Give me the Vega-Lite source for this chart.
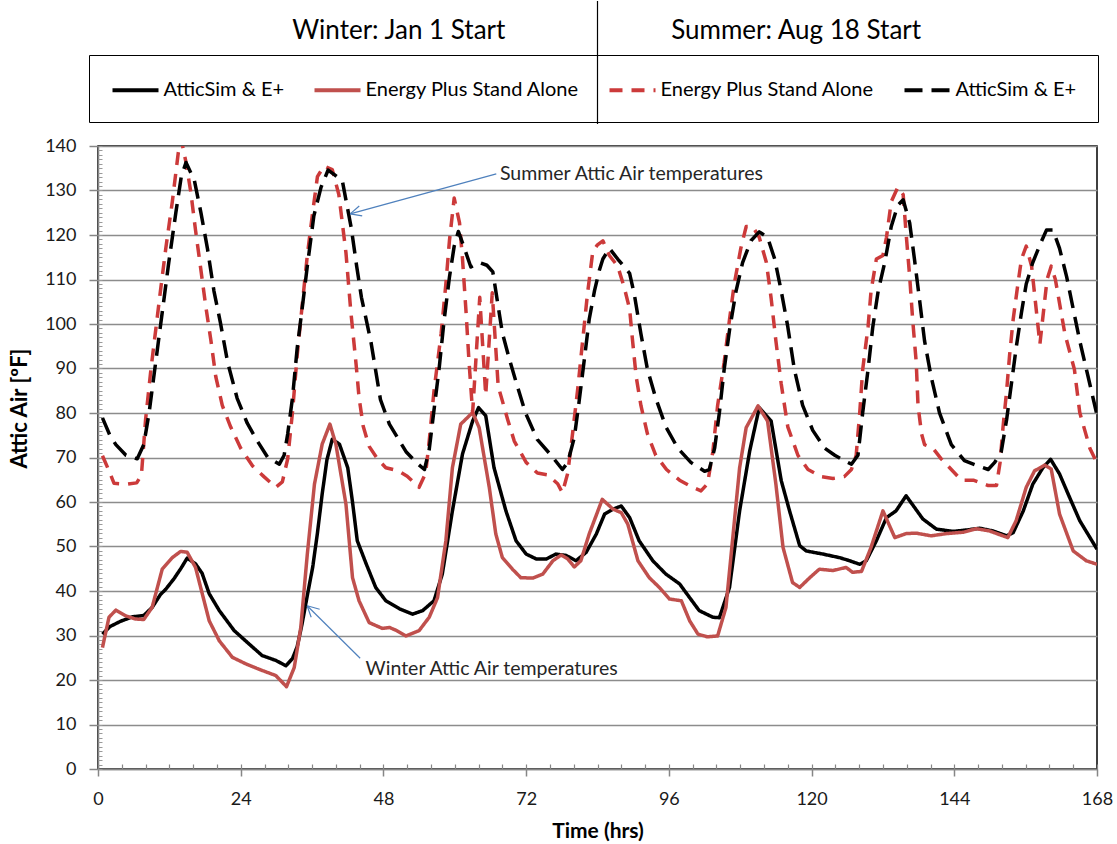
{
  "$schema": "https://vega.github.io/schema/vega-lite/v6.json",
  "background": "white",
  "padding": {"left": 7, "top": 0, "right": 2, "bottom": 0},
  "config": {"font": "Lato", "view": {"stroke": null}},
  "spacing": 22,
  "bounds": "flush",
  "resolve": {"scale": {"x": "independent", "y": "independent", "color": "independent", "strokeDash": "independent"}},
  "datasets": {
    "headers": [
      {"season": "Winter", "label": "Winter: Jan 1 Start"},
      {"season": "Summer", "label": "Summer: Aug 18 Start"}
    ],
    "notes": [
      {"label": "Summer Attic Air temperatures", "hour": 67.6, "temp": 133.7},
      {"label": "Winter Attic Air temperatures", "hour": 45.0, "temp": 22.5}
    ],
    "arrows": [
      {"h1": 66.98, "t1": 133.72, "h2": 42.41, "t2": 124.74},
      {"h1": 42.41, "t1": 124.74, "h2": 44.43, "t2": 124.29},
      {"h1": 42.41, "t1": 124.74, "h2": 43.93, "t2": 126.5},
      {"h1": 44.09, "t1": 24.89, "h2": 35.17, "t2": 36.68},
      {"h1": 35.17, "t1": 36.68, "h2": 35.85, "t2": 34.1},
      {"h1": 35.17, "t1": 36.68, "h2": 37.28, "t2": 35.9}
    ],
    "temps": [
      {"series": "Winter AtticSim & E+", "hour": 0.75, "temp": 30.3},
      {"series": "Winter AtticSim & E+", "hour": 2, "temp": 32.0},
      {"series": "Winter AtticSim & E+", "hour": 3.8, "temp": 33.2},
      {"series": "Winter AtticSim & E+", "hour": 5.8, "temp": 34.2},
      {"series": "Winter AtticSim & E+", "hour": 7.7, "temp": 34.5},
      {"series": "Winter AtticSim & E+", "hour": 9.1, "temp": 36.3},
      {"series": "Winter AtticSim & E+", "hour": 10.5, "temp": 39.2},
      {"series": "Winter AtticSim & E+", "hour": 11.4, "temp": 40.4},
      {"series": "Winter AtticSim & E+", "hour": 12.8, "temp": 42.8},
      {"series": "Winter AtticSim & E+", "hour": 14.0, "temp": 45.2},
      {"series": "Winter AtticSim & E+", "hour": 15.0, "temp": 47.4},
      {"series": "Winter AtticSim & E+", "hour": 16.4, "temp": 46.1},
      {"series": "Winter AtticSim & E+", "hour": 17.5, "temp": 44.0},
      {"series": "Winter AtticSim & E+", "hour": 18.7, "temp": 39.4},
      {"series": "Winter AtticSim & E+", "hour": 20.4, "temp": 35.6},
      {"series": "Winter AtticSim & E+", "hour": 22.9, "temp": 31.1},
      {"series": "Winter AtticSim & E+", "hour": 25.4, "temp": 28.1},
      {"series": "Winter AtticSim & E+", "hour": 27.6, "temp": 25.5},
      {"series": "Winter AtticSim & E+", "hour": 29.9, "temp": 24.4},
      {"series": "Winter AtticSim & E+", "hour": 31.6, "temp": 23.2},
      {"series": "Winter AtticSim & E+", "hour": 32.7, "temp": 24.8},
      {"series": "Winter AtticSim & E+", "hour": 33.5, "temp": 27.5},
      {"series": "Winter AtticSim & E+", "hour": 34.3, "temp": 32.5},
      {"series": "Winter AtticSim & E+", "hour": 35.2, "temp": 39.0},
      {"series": "Winter AtticSim & E+", "hour": 36.1, "temp": 45.3},
      {"series": "Winter AtticSim & E+", "hour": 36.9, "temp": 53.0},
      {"series": "Winter AtticSim & E+", "hour": 37.7, "temp": 61.8},
      {"series": "Winter AtticSim & E+", "hour": 38.5, "temp": 69.5},
      {"series": "Winter AtticSim & E+", "hour": 39.4, "temp": 74.1},
      {"series": "Winter AtticSim & E+", "hour": 40.6, "temp": 73.0},
      {"series": "Winter AtticSim & E+", "hour": 42.0, "temp": 67.7},
      {"series": "Winter AtticSim & E+", "hour": 42.8, "temp": 60.0},
      {"series": "Winter AtticSim & E+", "hour": 43.6, "temp": 51.3},
      {"series": "Winter AtticSim & E+", "hour": 45.1, "temp": 46.1},
      {"series": "Winter AtticSim & E+", "hour": 46.7, "temp": 40.8},
      {"series": "Winter AtticSim & E+", "hour": 48.4, "temp": 37.8},
      {"series": "Winter AtticSim & E+", "hour": 50.7, "temp": 36.0},
      {"series": "Winter AtticSim & E+", "hour": 52.9, "temp": 34.8},
      {"series": "Winter AtticSim & E+", "hour": 54.6, "temp": 35.6},
      {"series": "Winter AtticSim & E+", "hour": 56.5, "temp": 37.8},
      {"series": "Winter AtticSim & E+", "hour": 57.9, "temp": 43.8},
      {"series": "Winter AtticSim & E+", "hour": 59.6, "temp": 58.0},
      {"series": "Winter AtticSim & E+", "hour": 61.3, "temp": 70.8},
      {"series": "Winter AtticSim & E+", "hour": 63.0, "temp": 78.2},
      {"series": "Winter AtticSim & E+", "hour": 64.0, "temp": 81.2},
      {"series": "Winter AtticSim & E+", "hour": 65.2, "temp": 79.4},
      {"series": "Winter AtticSim & E+", "hour": 66.6, "temp": 67.7},
      {"series": "Winter AtticSim & E+", "hour": 68.6, "temp": 58.0},
      {"series": "Winter AtticSim & E+", "hour": 70.3, "temp": 51.3},
      {"series": "Winter AtticSim & E+", "hour": 72.0, "temp": 48.3},
      {"series": "Winter AtticSim & E+", "hour": 73.7, "temp": 47.2},
      {"series": "Winter AtticSim & E+", "hour": 75.4, "temp": 47.2},
      {"series": "Winter AtticSim & E+", "hour": 77.0, "temp": 48.3},
      {"series": "Winter AtticSim & E+", "hour": 78.7, "temp": 48.0},
      {"series": "Winter AtticSim & E+", "hour": 80.4, "temp": 46.8},
      {"series": "Winter AtticSim & E+", "hour": 82.1, "temp": 48.7},
      {"series": "Winter AtticSim & E+", "hour": 83.8, "temp": 52.8},
      {"series": "Winter AtticSim & E+", "hour": 85.2, "temp": 57.3},
      {"series": "Winter AtticSim & E+", "hour": 86.6, "temp": 58.4},
      {"series": "Winter AtticSim & E+", "hour": 88.0, "temp": 59.1},
      {"series": "Winter AtticSim & E+", "hour": 89.4, "temp": 56.5},
      {"series": "Winter AtticSim & E+", "hour": 91.0, "temp": 51.3},
      {"series": "Winter AtticSim & E+", "hour": 93.3, "temp": 46.8},
      {"series": "Winter AtticSim & E+", "hour": 95.5, "temp": 43.8},
      {"series": "Winter AtticSim & E+", "hour": 97.8, "temp": 41.6},
      {"series": "Winter AtticSim & E+", "hour": 99.5, "temp": 38.5},
      {"series": "Winter AtticSim & E+", "hour": 101.1, "temp": 35.6},
      {"series": "Winter AtticSim & E+", "hour": 103.4, "temp": 34.1},
      {"series": "Winter AtticSim & E+", "hour": 104.5, "temp": 34.0},
      {"series": "Winter AtticSim & E+", "hour": 106.2, "temp": 40.8},
      {"series": "Winter AtticSim & E+", "hour": 107.9, "temp": 58.0},
      {"series": "Winter AtticSim & E+", "hour": 109.6, "temp": 71.5},
      {"series": "Winter AtticSim & E+", "hour": 111.2, "temp": 81.2},
      {"series": "Winter AtticSim & E+", "hour": 113.2, "temp": 78.2},
      {"series": "Winter AtticSim & E+", "hour": 114.9, "temp": 64.8},
      {"series": "Winter AtticSim & E+", "hour": 116.3, "temp": 58.0},
      {"series": "Winter AtticSim & E+", "hour": 118.0, "temp": 50.2},
      {"series": "Winter AtticSim & E+", "hour": 119.1, "temp": 49.0},
      {"series": "Winter AtticSim & E+", "hour": 121.9, "temp": 48.3},
      {"series": "Winter AtticSim & E+", "hour": 124.7, "temp": 47.5},
      {"series": "Winter AtticSim & E+", "hour": 126.4, "temp": 46.8},
      {"series": "Winter AtticSim & E+", "hour": 128.1, "temp": 46.0},
      {"series": "Winter AtticSim & E+", "hour": 129.2, "temp": 46.8},
      {"series": "Winter AtticSim & E+", "hour": 130.9, "temp": 51.3},
      {"series": "Winter AtticSim & E+", "hour": 132.6, "temp": 56.5},
      {"series": "Winter AtticSim & E+", "hour": 134.2, "temp": 58.0},
      {"series": "Winter AtticSim & E+", "hour": 135.9, "temp": 61.4},
      {"series": "Winter AtticSim & E+", "hour": 137.3, "temp": 58.8},
      {"series": "Winter AtticSim & E+", "hour": 138.7, "temp": 56.2},
      {"series": "Winter AtticSim & E+", "hour": 141.0, "temp": 53.9},
      {"series": "Winter AtticSim & E+", "hour": 143.8, "temp": 53.4},
      {"series": "Winter AtticSim & E+", "hour": 146.0, "temp": 53.7},
      {"series": "Winter AtticSim & E+", "hour": 148.3, "temp": 54.1},
      {"series": "Winter AtticSim & E+", "hour": 150.5, "temp": 53.5},
      {"series": "Winter AtticSim & E+", "hour": 152.8, "temp": 52.4},
      {"series": "Winter AtticSim & E+", "hour": 153.9, "temp": 53.1},
      {"series": "Winter AtticSim & E+", "hour": 155.6, "temp": 58.0},
      {"series": "Winter AtticSim & E+", "hour": 157.2, "temp": 64.0},
      {"series": "Winter AtticSim & E+", "hour": 158.9, "temp": 67.7},
      {"series": "Winter AtticSim & E+", "hour": 160.2, "temp": 69.6},
      {"series": "Winter AtticSim & E+", "hour": 161.7, "temp": 66.3},
      {"series": "Winter AtticSim & E+", "hour": 163.4, "temp": 61.0},
      {"series": "Winter AtticSim & E+", "hour": 165.1, "temp": 55.8},
      {"series": "Winter AtticSim & E+", "hour": 168.0, "temp": 49.4},

      {"series": "Winter Energy Plus Stand Alone", "hour": 0.75, "temp": 27.3},
      {"series": "Winter Energy Plus Stand Alone", "hour": 1.85, "temp": 34.1},
      {"series": "Winter Energy Plus Stand Alone", "hour": 3.0, "temp": 35.7},
      {"series": "Winter Energy Plus Stand Alone", "hour": 4.7, "temp": 34.4},
      {"series": "Winter Energy Plus Stand Alone", "hour": 6.3, "temp": 33.7},
      {"series": "Winter Energy Plus Stand Alone", "hour": 7.7, "temp": 33.6},
      {"series": "Winter Energy Plus Stand Alone", "hour": 9.1, "temp": 36.3},
      {"series": "Winter Energy Plus Stand Alone", "hour": 10.8, "temp": 44.9},
      {"series": "Winter Energy Plus Stand Alone", "hour": 12.5, "temp": 47.5},
      {"series": "Winter Energy Plus Stand Alone", "hour": 13.9, "temp": 48.9},
      {"series": "Winter Energy Plus Stand Alone", "hour": 15.0, "temp": 48.7},
      {"series": "Winter Energy Plus Stand Alone", "hour": 16.4, "temp": 45.3},
      {"series": "Winter Energy Plus Stand Alone", "hour": 18.7, "temp": 33.3},
      {"series": "Winter Energy Plus Stand Alone", "hour": 20.4, "temp": 28.8},
      {"series": "Winter Energy Plus Stand Alone", "hour": 22.6, "temp": 25.1},
      {"series": "Winter Energy Plus Stand Alone", "hour": 24.9, "temp": 23.6},
      {"series": "Winter Energy Plus Stand Alone", "hour": 27.7, "temp": 22.1},
      {"series": "Winter Energy Plus Stand Alone", "hour": 29.9, "temp": 21.0},
      {"series": "Winter Energy Plus Stand Alone", "hour": 31.7, "temp": 18.5},
      {"series": "Winter Energy Plus Stand Alone", "hour": 33.0, "temp": 22.8},
      {"series": "Winter Energy Plus Stand Alone", "hour": 34.1, "temp": 31.8},
      {"series": "Winter Energy Plus Stand Alone", "hour": 35.2, "temp": 48.3},
      {"series": "Winter Energy Plus Stand Alone", "hour": 36.4, "temp": 64.0},
      {"series": "Winter Energy Plus Stand Alone", "hour": 37.7, "temp": 73.0},
      {"series": "Winter Energy Plus Stand Alone", "hour": 39.0, "temp": 77.5},
      {"series": "Winter Energy Plus Stand Alone", "hour": 40.0, "temp": 73.0},
      {"series": "Winter Energy Plus Stand Alone", "hour": 41.7, "temp": 59.5},
      {"series": "Winter Energy Plus Stand Alone", "hour": 42.8, "temp": 43.0},
      {"series": "Winter Energy Plus Stand Alone", "hour": 43.9, "temp": 37.8},
      {"series": "Winter Energy Plus Stand Alone", "hour": 45.6, "temp": 32.9},
      {"series": "Winter Energy Plus Stand Alone", "hour": 47.8, "temp": 31.6},
      {"series": "Winter Energy Plus Stand Alone", "hour": 49.0, "temp": 31.8},
      {"series": "Winter Energy Plus Stand Alone", "hour": 50.1, "temp": 31.2},
      {"series": "Winter Energy Plus Stand Alone", "hour": 51.8, "temp": 29.9},
      {"series": "Winter Energy Plus Stand Alone", "hour": 54.0, "temp": 31.1},
      {"series": "Winter Energy Plus Stand Alone", "hour": 55.7, "temp": 34.1},
      {"series": "Winter Energy Plus Stand Alone", "hour": 57.1, "temp": 38.5},
      {"series": "Winter Energy Plus Stand Alone", "hour": 58.5, "temp": 51.3},
      {"series": "Winter Energy Plus Stand Alone", "hour": 59.6, "temp": 67.7},
      {"series": "Winter Energy Plus Stand Alone", "hour": 61.0, "temp": 77.5},
      {"series": "Winter Energy Plus Stand Alone", "hour": 63.0, "temp": 80.1},
      {"series": "Winter Energy Plus Stand Alone", "hour": 64.1, "temp": 76.7},
      {"series": "Winter Energy Plus Stand Alone", "hour": 65.8, "temp": 63.3},
      {"series": "Winter Energy Plus Stand Alone", "hour": 66.9, "temp": 52.8},
      {"series": "Winter Energy Plus Stand Alone", "hour": 68.0, "temp": 47.5},
      {"series": "Winter Energy Plus Stand Alone", "hour": 69.7, "temp": 44.9},
      {"series": "Winter Energy Plus Stand Alone", "hour": 71.1, "temp": 43.0},
      {"series": "Winter Energy Plus Stand Alone", "hour": 73.1, "temp": 42.9},
      {"series": "Winter Energy Plus Stand Alone", "hour": 74.8, "temp": 43.8},
      {"series": "Winter Energy Plus Stand Alone", "hour": 76.5, "temp": 46.8},
      {"series": "Winter Energy Plus Stand Alone", "hour": 77.9, "temp": 48.1},
      {"series": "Winter Energy Plus Stand Alone", "hour": 79.0, "temp": 47.2},
      {"series": "Winter Energy Plus Stand Alone", "hour": 80.1, "temp": 45.4},
      {"series": "Winter Energy Plus Stand Alone", "hour": 81.2, "temp": 46.8},
      {"series": "Winter Energy Plus Stand Alone", "hour": 82.6, "temp": 52.8},
      {"series": "Winter Energy Plus Stand Alone", "hour": 84.8, "temp": 60.6},
      {"series": "Winter Energy Plus Stand Alone", "hour": 86.6, "temp": 58.4},
      {"series": "Winter Energy Plus Stand Alone", "hour": 88.0, "temp": 57.6},
      {"series": "Winter Energy Plus Stand Alone", "hour": 89.1, "temp": 55.0},
      {"series": "Winter Energy Plus Stand Alone", "hour": 90.8, "temp": 46.8},
      {"series": "Winter Energy Plus Stand Alone", "hour": 92.7, "temp": 43.0},
      {"series": "Winter Energy Plus Stand Alone", "hour": 94.4, "temp": 40.8},
      {"series": "Winter Energy Plus Stand Alone", "hour": 96.1, "temp": 38.2},
      {"series": "Winter Energy Plus Stand Alone", "hour": 98.1, "temp": 37.8},
      {"series": "Winter Energy Plus Stand Alone", "hour": 99.5, "temp": 33.3},
      {"series": "Winter Energy Plus Stand Alone", "hour": 100.9, "temp": 30.3},
      {"series": "Winter Energy Plus Stand Alone", "hour": 102.5, "temp": 29.7},
      {"series": "Winter Energy Plus Stand Alone", "hour": 104.2, "temp": 29.9},
      {"series": "Winter Energy Plus Stand Alone", "hour": 105.6, "temp": 36.3},
      {"series": "Winter Energy Plus Stand Alone", "hour": 106.7, "temp": 51.3},
      {"series": "Winter Energy Plus Stand Alone", "hour": 107.9, "temp": 67.7},
      {"series": "Winter Energy Plus Stand Alone", "hour": 109.0, "temp": 76.7},
      {"series": "Winter Energy Plus Stand Alone", "hour": 111.0, "temp": 81.6},
      {"series": "Winter Energy Plus Stand Alone", "hour": 112.6, "temp": 78.2},
      {"series": "Winter Energy Plus Stand Alone", "hour": 114.0, "temp": 64.0},
      {"series": "Winter Energy Plus Stand Alone", "hour": 115.2, "temp": 49.8},
      {"series": "Winter Energy Plus Stand Alone", "hour": 116.8, "temp": 41.9},
      {"series": "Winter Energy Plus Stand Alone", "hour": 118.0, "temp": 40.8},
      {"series": "Winter Energy Plus Stand Alone", "hour": 119.7, "temp": 43.0},
      {"series": "Winter Energy Plus Stand Alone", "hour": 121.3, "temp": 44.9},
      {"series": "Winter Energy Plus Stand Alone", "hour": 123.6, "temp": 44.6},
      {"series": "Winter Energy Plus Stand Alone", "hour": 125.8, "temp": 45.3},
      {"series": "Winter Energy Plus Stand Alone", "hour": 126.9, "temp": 44.2},
      {"series": "Winter Energy Plus Stand Alone", "hour": 128.4, "temp": 44.4},
      {"series": "Winter Energy Plus Stand Alone", "hour": 130.0, "temp": 49.8},
      {"series": "Winter Energy Plus Stand Alone", "hour": 132.0, "temp": 58.0},
      {"series": "Winter Energy Plus Stand Alone", "hour": 134.0, "temp": 52.0},
      {"series": "Winter Energy Plus Stand Alone", "hour": 135.9, "temp": 52.9},
      {"series": "Winter Energy Plus Stand Alone", "hour": 137.6, "temp": 53.0},
      {"series": "Winter Energy Plus Stand Alone", "hour": 140.1, "temp": 52.4},
      {"series": "Winter Energy Plus Stand Alone", "hour": 142.7, "temp": 52.9},
      {"series": "Winter Energy Plus Stand Alone", "hour": 145.5, "temp": 53.2},
      {"series": "Winter Energy Plus Stand Alone", "hour": 147.7, "temp": 54.0},
      {"series": "Winter Energy Plus Stand Alone", "hour": 149.9, "temp": 53.5},
      {"series": "Winter Energy Plus Stand Alone", "hour": 153.0, "temp": 52.0},
      {"series": "Winter Energy Plus Stand Alone", "hour": 154.4, "temp": 55.8},
      {"series": "Winter Energy Plus Stand Alone", "hour": 156.1, "temp": 63.3},
      {"series": "Winter Energy Plus Stand Alone", "hour": 157.5, "temp": 67.0},
      {"series": "Winter Energy Plus Stand Alone", "hour": 159.2, "temp": 68.3},
      {"series": "Winter Energy Plus Stand Alone", "hour": 160.3, "temp": 67.4},
      {"series": "Winter Energy Plus Stand Alone", "hour": 161.7, "temp": 57.3},
      {"series": "Winter Energy Plus Stand Alone", "hour": 164.0, "temp": 49.0},
      {"series": "Winter Energy Plus Stand Alone", "hour": 166.2, "temp": 46.8},
      {"series": "Winter Energy Plus Stand Alone", "hour": 168.0, "temp": 46.0},

      {"series": "Summer Energy Plus Stand Alone", "hour": 0.75, "temp": 70.4},
      {"series": "Summer Energy Plus Stand Alone", "hour": 1.85, "temp": 67.0},
      {"series": "Summer Energy Plus Stand Alone", "hour": 2.7, "temp": 64.2},
      {"series": "Summer Energy Plus Stand Alone", "hour": 4.9, "temp": 64.0},
      {"series": "Summer Energy Plus Stand Alone", "hour": 6.5, "temp": 64.3},
      {"series": "Summer Energy Plus Stand Alone", "hour": 7.3, "temp": 66.0},
      {"series": "Summer Energy Plus Stand Alone", "hour": 8.0, "temp": 78.5},
      {"series": "Summer Energy Plus Stand Alone", "hour": 8.9, "temp": 89.8},
      {"series": "Summer Energy Plus Stand Alone", "hour": 9.7, "temp": 98.6},
      {"series": "Summer Energy Plus Stand Alone", "hour": 10.5, "temp": 107.4},
      {"series": "Summer Energy Plus Stand Alone", "hour": 11.4, "temp": 117.0},
      {"series": "Summer Energy Plus Stand Alone", "hour": 12.5, "temp": 127.5},
      {"series": "Summer Energy Plus Stand Alone", "hour": 13.5, "temp": 138.5},
      {"series": "Summer Energy Plus Stand Alone", "hour": 14.0, "temp": 141.5},
      {"series": "Summer Energy Plus Stand Alone", "hour": 14.8, "temp": 136.3},
      {"series": "Summer Energy Plus Stand Alone", "hour": 15.6, "temp": 129.7},
      {"series": "Summer Energy Plus Stand Alone", "hour": 16.4, "temp": 121.1},
      {"series": "Summer Energy Plus Stand Alone", "hour": 17.3, "temp": 112.2},
      {"series": "Summer Energy Plus Stand Alone", "hour": 18.1, "temp": 104.2},
      {"series": "Summer Energy Plus Stand Alone", "hour": 19.0, "temp": 96.2},
      {"series": "Summer Energy Plus Stand Alone", "hour": 19.8, "temp": 88.2},
      {"series": "Summer Energy Plus Stand Alone", "hour": 20.9, "temp": 81.7},
      {"series": "Summer Energy Plus Stand Alone", "hour": 22.3, "temp": 76.9},
      {"series": "Summer Energy Plus Stand Alone", "hour": 24.0, "temp": 72.1},
      {"series": "Summer Energy Plus Stand Alone", "hour": 26.0, "temp": 68.1},
      {"series": "Summer Energy Plus Stand Alone", "hour": 27.9, "temp": 65.7},
      {"series": "Summer Energy Plus Stand Alone", "hour": 29.9, "temp": 63.3},
      {"series": "Summer Energy Plus Stand Alone", "hour": 31.0, "temp": 64.5},
      {"series": "Summer Energy Plus Stand Alone", "hour": 31.9, "temp": 69.7},
      {"series": "Summer Energy Plus Stand Alone", "hour": 32.7, "temp": 80.1},
      {"series": "Summer Energy Plus Stand Alone", "hour": 33.5, "temp": 93.0},
      {"series": "Summer Energy Plus Stand Alone", "hour": 34.4, "temp": 105.0},
      {"series": "Summer Energy Plus Stand Alone", "hour": 35.2, "temp": 115.4},
      {"series": "Summer Energy Plus Stand Alone", "hour": 36.1, "temp": 125.1},
      {"series": "Summer Energy Plus Stand Alone", "hour": 36.9, "temp": 133.1},
      {"series": "Summer Energy Plus Stand Alone", "hour": 38.0, "temp": 135.5},
      {"series": "Summer Energy Plus Stand Alone", "hour": 39.4, "temp": 134.7},
      {"series": "Summer Energy Plus Stand Alone", "hour": 40.5, "temp": 129.1},
      {"series": "Summer Energy Plus Stand Alone", "hour": 41.7, "temp": 116.0},
      {"series": "Summer Energy Plus Stand Alone", "hour": 42.5, "temp": 103.0},
      {"series": "Summer Energy Plus Stand Alone", "hour": 43.4, "temp": 91.0},
      {"series": "Summer Energy Plus Stand Alone", "hour": 43.9, "temp": 83.5},
      {"series": "Summer Energy Plus Stand Alone", "hour": 44.6, "temp": 77.0},
      {"series": "Summer Energy Plus Stand Alone", "hour": 45.6, "temp": 72.5},
      {"series": "Summer Energy Plus Stand Alone", "hour": 47.0, "temp": 69.7},
      {"series": "Summer Energy Plus Stand Alone", "hour": 48.4, "temp": 67.7},
      {"series": "Summer Energy Plus Stand Alone", "hour": 50.5, "temp": 67.0},
      {"series": "Summer Energy Plus Stand Alone", "hour": 52.0, "temp": 65.8},
      {"series": "Summer Energy Plus Stand Alone", "hour": 54.0, "temp": 63.3},
      {"series": "Summer Energy Plus Stand Alone", "hour": 55.1, "temp": 66.5},
      {"series": "Summer Energy Plus Stand Alone", "hour": 55.7, "temp": 73.7},
      {"series": "Summer Energy Plus Stand Alone", "hour": 56.5, "temp": 84.9},
      {"series": "Summer Energy Plus Stand Alone", "hour": 57.7, "temp": 97.8},
      {"series": "Summer Energy Plus Stand Alone", "hour": 58.5, "temp": 109.0},
      {"series": "Summer Energy Plus Stand Alone", "hour": 59.1, "temp": 118.7},
      {"series": "Summer Energy Plus Stand Alone", "hour": 59.9, "temp": 128.3},
      {"series": "Summer Energy Plus Stand Alone", "hour": 60.8, "temp": 122.7},
      {"series": "Summer Energy Plus Stand Alone", "hour": 61.3, "temp": 114.6},
      {"series": "Summer Energy Plus Stand Alone", "hour": 61.9, "temp": 102.6},
      {"series": "Summer Energy Plus Stand Alone", "hour": 62.4, "temp": 91.4},
      {"series": "Summer Energy Plus Stand Alone", "hour": 63.0, "temp": 80.1},
      {"series": "Summer Energy Plus Stand Alone", "hour": 64.2, "temp": 106.0},
      {"series": "Summer Energy Plus Stand Alone", "hour": 65.2, "temp": 84.0},
      {"series": "Summer Energy Plus Stand Alone", "hour": 66.3, "temp": 107.0},
      {"series": "Summer Energy Plus Stand Alone", "hour": 67.3, "temp": 86.0},
      {"series": "Summer Energy Plus Stand Alone", "hour": 68.9, "temp": 78.5},
      {"series": "Summer Energy Plus Stand Alone", "hour": 70.0, "temp": 73.7},
      {"series": "Summer Energy Plus Stand Alone", "hour": 72.0, "temp": 68.9},
      {"series": "Summer Energy Plus Stand Alone", "hour": 73.9, "temp": 66.5},
      {"series": "Summer Energy Plus Stand Alone", "hour": 75.6, "temp": 66.1},
      {"series": "Summer Energy Plus Stand Alone", "hour": 77.3, "temp": 64.1},
      {"series": "Summer Energy Plus Stand Alone", "hour": 78.1, "temp": 62.1},
      {"series": "Summer Energy Plus Stand Alone", "hour": 79.0, "temp": 66.5},
      {"series": "Summer Energy Plus Stand Alone", "hour": 79.8, "temp": 75.3},
      {"series": "Summer Energy Plus Stand Alone", "hour": 80.7, "temp": 85.7},
      {"series": "Summer Energy Plus Stand Alone", "hour": 81.5, "temp": 96.2},
      {"series": "Summer Energy Plus Stand Alone", "hour": 82.3, "temp": 106.6},
      {"series": "Summer Energy Plus Stand Alone", "hour": 83.2, "temp": 116.2},
      {"series": "Summer Energy Plus Stand Alone", "hour": 84.0, "temp": 117.8},
      {"series": "Summer Energy Plus Stand Alone", "hour": 84.9, "temp": 118.7},
      {"series": "Summer Energy Plus Stand Alone", "hour": 86.0, "temp": 115.4},
      {"series": "Summer Energy Plus Stand Alone", "hour": 87.4, "temp": 113.0},
      {"series": "Summer Energy Plus Stand Alone", "hour": 88.5, "temp": 108.2},
      {"series": "Summer Energy Plus Stand Alone", "hour": 89.4, "temp": 103.4},
      {"series": "Summer Energy Plus Stand Alone", "hour": 89.9, "temp": 96.2},
      {"series": "Summer Energy Plus Stand Alone", "hour": 90.5, "temp": 88.2},
      {"series": "Summer Energy Plus Stand Alone", "hour": 91.3, "temp": 81.7},
      {"series": "Summer Energy Plus Stand Alone", "hour": 92.4, "temp": 75.3},
      {"series": "Summer Energy Plus Stand Alone", "hour": 93.8, "temp": 70.5},
      {"series": "Summer Energy Plus Stand Alone", "hour": 95.6, "temp": 67.3},
      {"series": "Summer Energy Plus Stand Alone", "hour": 97.8, "temp": 64.9},
      {"series": "Summer Energy Plus Stand Alone", "hour": 100.0, "temp": 63.3},
      {"series": "Summer Energy Plus Stand Alone", "hour": 101.4, "temp": 62.5},
      {"series": "Summer Energy Plus Stand Alone", "hour": 102.5, "temp": 64.1},
      {"series": "Summer Energy Plus Stand Alone", "hour": 103.4, "temp": 71.3},
      {"series": "Summer Energy Plus Stand Alone", "hour": 104.2, "temp": 81.7},
      {"series": "Summer Energy Plus Stand Alone", "hour": 105.3, "temp": 91.4},
      {"series": "Summer Energy Plus Stand Alone", "hour": 106.2, "temp": 101.0},
      {"series": "Summer Energy Plus Stand Alone", "hour": 107.0, "temp": 109.0},
      {"series": "Summer Energy Plus Stand Alone", "hour": 108.1, "temp": 117.0},
      {"series": "Summer Energy Plus Stand Alone", "hour": 109.0, "temp": 121.9},
      {"series": "Summer Energy Plus Stand Alone", "hour": 110.1, "temp": 121.9},
      {"series": "Summer Energy Plus Stand Alone", "hour": 111.2, "temp": 119.5},
      {"series": "Summer Energy Plus Stand Alone", "hour": 112.4, "temp": 113.8},
      {"series": "Summer Energy Plus Stand Alone", "hour": 113.2, "temp": 105.8},
      {"series": "Summer Energy Plus Stand Alone", "hour": 114.0, "temp": 96.2},
      {"series": "Summer Energy Plus Stand Alone", "hour": 114.9, "temp": 86.5},
      {"series": "Summer Energy Plus Stand Alone", "hour": 116.0, "temp": 76.9},
      {"series": "Summer Energy Plus Stand Alone", "hour": 117.7, "temp": 70.5},
      {"series": "Summer Energy Plus Stand Alone", "hour": 119.4, "temp": 67.3},
      {"series": "Summer Energy Plus Stand Alone", "hour": 121.6, "temp": 65.7},
      {"series": "Summer Energy Plus Stand Alone", "hour": 123.6, "temp": 65.3},
      {"series": "Summer Energy Plus Stand Alone", "hour": 125.5, "temp": 65.7},
      {"series": "Summer Energy Plus Stand Alone", "hour": 126.7, "temp": 67.3},
      {"series": "Summer Energy Plus Stand Alone", "hour": 127.5, "temp": 70.5},
      {"series": "Summer Energy Plus Stand Alone", "hour": 128.1, "temp": 80.1},
      {"series": "Summer Energy Plus Stand Alone", "hour": 128.6, "temp": 89.8},
      {"series": "Summer Energy Plus Stand Alone", "hour": 129.5, "temp": 99.4},
      {"series": "Summer Energy Plus Stand Alone", "hour": 130.0, "temp": 107.4},
      {"series": "Summer Energy Plus Stand Alone", "hour": 130.9, "temp": 114.6},
      {"series": "Summer Energy Plus Stand Alone", "hour": 132.0, "temp": 115.4},
      {"series": "Summer Energy Plus Stand Alone", "hour": 132.6, "temp": 119.5},
      {"series": "Summer Energy Plus Stand Alone", "hour": 133.4, "temp": 127.5},
      {"series": "Summer Energy Plus Stand Alone", "hour": 134.5, "temp": 130.7},
      {"series": "Summer Energy Plus Stand Alone", "hour": 135.4, "temp": 129.1},
      {"series": "Summer Energy Plus Stand Alone", "hour": 135.9, "temp": 120.3},
      {"series": "Summer Energy Plus Stand Alone", "hour": 136.5, "temp": 110.6},
      {"series": "Summer Energy Plus Stand Alone", "hour": 137.0, "temp": 101.0},
      {"series": "Summer Energy Plus Stand Alone", "hour": 137.6, "temp": 91.4},
      {"series": "Summer Energy Plus Stand Alone", "hour": 137.9, "temp": 81.7},
      {"series": "Summer Energy Plus Stand Alone", "hour": 138.5, "temp": 75.3},
      {"series": "Summer Energy Plus Stand Alone", "hour": 139.0, "temp": 72.9},
      {"series": "Summer Energy Plus Stand Alone", "hour": 140.4, "temp": 72.1},
      {"series": "Summer Energy Plus Stand Alone", "hour": 141.8, "temp": 69.7},
      {"series": "Summer Energy Plus Stand Alone", "hour": 143.5, "temp": 67.3},
      {"series": "Summer Energy Plus Stand Alone", "hour": 145.2, "temp": 64.9},
      {"series": "Summer Energy Plus Stand Alone", "hour": 147.2, "temp": 64.9},
      {"series": "Summer Energy Plus Stand Alone", "hour": 149.7, "temp": 63.7},
      {"series": "Summer Energy Plus Stand Alone", "hour": 151.1, "temp": 63.7},
      {"series": "Summer Energy Plus Stand Alone", "hour": 151.7, "temp": 68.9},
      {"series": "Summer Energy Plus Stand Alone", "hour": 152.2, "temp": 76.9},
      {"series": "Summer Energy Plus Stand Alone", "hour": 152.8, "temp": 84.9},
      {"series": "Summer Energy Plus Stand Alone", "hour": 153.3, "temp": 93.0},
      {"series": "Summer Energy Plus Stand Alone", "hour": 153.9, "temp": 101.0},
      {"series": "Summer Energy Plus Stand Alone", "hour": 154.7, "temp": 109.0},
      {"series": "Summer Energy Plus Stand Alone", "hour": 155.3, "temp": 114.6},
      {"series": "Summer Energy Plus Stand Alone", "hour": 156.1, "temp": 117.5},
      {"series": "Summer Energy Plus Stand Alone", "hour": 157.0, "temp": 113.0},
      {"series": "Summer Energy Plus Stand Alone", "hour": 158.4, "temp": 95.5},
      {"series": "Summer Energy Plus Stand Alone", "hour": 159.6, "temp": 110.0},
      {"series": "Summer Energy Plus Stand Alone", "hour": 160.3, "temp": 113.0},
      {"series": "Summer Energy Plus Stand Alone", "hour": 161.0, "temp": 110.0},
      {"series": "Summer Energy Plus Stand Alone", "hour": 162.6, "temp": 97.8},
      {"series": "Summer Energy Plus Stand Alone", "hour": 164.2, "temp": 89.8},
      {"series": "Summer Energy Plus Stand Alone", "hour": 165.1, "temp": 80.1},
      {"series": "Summer Energy Plus Stand Alone", "hour": 166.8, "temp": 72.1},
      {"series": "Summer Energy Plus Stand Alone", "hour": 167.9, "temp": 69.0},

      {"series": "Summer AtticSim & E+", "hour": 0.75, "temp": 78.9},
      {"series": "Summer AtticSim & E+", "hour": 2.0, "temp": 75.0},
      {"series": "Summer AtticSim & E+", "hour": 3.0, "temp": 72.9},
      {"series": "Summer AtticSim & E+", "hour": 4.7, "temp": 70.5},
      {"series": "Summer AtticSim & E+", "hour": 6.6, "temp": 69.7},
      {"series": "Summer AtticSim & E+", "hour": 7.7, "temp": 72.9},
      {"series": "Summer AtticSim & E+", "hour": 8.6, "temp": 80.1},
      {"series": "Summer AtticSim & E+", "hour": 9.7, "temp": 91.4},
      {"series": "Summer AtticSim & E+", "hour": 10.8, "temp": 102.6},
      {"series": "Summer AtticSim & E+", "hour": 11.9, "temp": 113.8},
      {"series": "Summer AtticSim & E+", "hour": 13.1, "temp": 125.1},
      {"series": "Summer AtticSim & E+", "hour": 14.0, "temp": 133.1},
      {"series": "Summer AtticSim & E+", "hour": 14.8, "temp": 136.3},
      {"series": "Summer AtticSim & E+", "hour": 16.2, "temp": 132.3},
      {"series": "Summer AtticSim & E+", "hour": 17.3, "temp": 125.1},
      {"series": "Summer AtticSim & E+", "hour": 18.4, "temp": 117.0},
      {"series": "Summer AtticSim & E+", "hour": 19.5, "temp": 107.4},
      {"series": "Summer AtticSim & E+", "hour": 20.6, "temp": 100.2},
      {"series": "Summer AtticSim & E+", "hour": 21.8, "temp": 91.4},
      {"series": "Summer AtticSim & E+", "hour": 23.4, "temp": 83.3},
      {"series": "Summer AtticSim & E+", "hour": 25.1, "temp": 77.7},
      {"series": "Summer AtticSim & E+", "hour": 26.8, "temp": 73.7},
      {"series": "Summer AtticSim & E+", "hour": 28.5, "temp": 70.1},
      {"series": "Summer AtticSim & E+", "hour": 30.5, "temp": 68.5},
      {"series": "Summer AtticSim & E+", "hour": 31.3, "temp": 70.5},
      {"series": "Summer AtticSim & E+", "hour": 31.9, "temp": 75.3},
      {"series": "Summer AtticSim & E+", "hour": 32.7, "temp": 83.3},
      {"series": "Summer AtticSim & E+", "hour": 33.5, "temp": 94.6},
      {"series": "Summer AtticSim & E+", "hour": 34.4, "temp": 104.2},
      {"series": "Summer AtticSim & E+", "hour": 35.2, "temp": 113.0},
      {"series": "Summer AtticSim & E+", "hour": 36.3, "temp": 124.3},
      {"series": "Summer AtticSim & E+", "hour": 37.5, "temp": 130.7},
      {"series": "Summer AtticSim & E+", "hour": 38.7, "temp": 134.6},
      {"series": "Summer AtticSim & E+", "hour": 39.8, "temp": 133.5},
      {"series": "Summer AtticSim & E+", "hour": 41.1, "temp": 132.1},
      {"series": "Summer AtticSim & E+", "hour": 42.6, "temp": 121.5},
      {"series": "Summer AtticSim & E+", "hour": 43.5, "temp": 113.0},
      {"series": "Summer AtticSim & E+", "hour": 44.3, "temp": 106.0},
      {"series": "Summer AtticSim & E+", "hour": 45.9, "temp": 96.0},
      {"series": "Summer AtticSim & E+", "hour": 47.5, "temp": 83.0},
      {"series": "Summer AtticSim & E+", "hour": 49.0, "temp": 77.5},
      {"series": "Summer AtticSim & E+", "hour": 51.8, "temp": 71.3},
      {"series": "Summer AtticSim & E+", "hour": 53.5, "temp": 68.9},
      {"series": "Summer AtticSim & E+", "hour": 54.9, "temp": 67.3},
      {"series": "Summer AtticSim & E+", "hour": 55.7, "temp": 71.8},
      {"series": "Summer AtticSim & E+", "hour": 56.5, "temp": 80.6},
      {"series": "Summer AtticSim & E+", "hour": 57.4, "temp": 90.4},
      {"series": "Summer AtticSim & E+", "hour": 58.2, "temp": 100.8},
      {"series": "Summer AtticSim & E+", "hour": 59.1, "temp": 110.5},
      {"series": "Summer AtticSim & E+", "hour": 59.9, "temp": 117.5},
      {"series": "Summer AtticSim & E+", "hour": 60.6, "temp": 120.8},
      {"series": "Summer AtticSim & E+", "hour": 61.6, "temp": 117.1},
      {"series": "Summer AtticSim & E+", "hour": 62.7, "temp": 112.8},
      {"series": "Summer AtticSim & E+", "hour": 64.2, "temp": 113.8},
      {"series": "Summer AtticSim & E+", "hour": 65.4, "temp": 113.2},
      {"series": "Summer AtticSim & E+", "hour": 66.4, "temp": 111.7},
      {"series": "Summer AtticSim & E+", "hour": 67.2, "temp": 104.8},
      {"series": "Summer AtticSim & E+", "hour": 68.0, "temp": 98.0},
      {"series": "Summer AtticSim & E+", "hour": 69.2, "temp": 92.0},
      {"series": "Summer AtticSim & E+", "hour": 70.3, "temp": 87.0},
      {"series": "Summer AtticSim & E+", "hour": 71.9, "temp": 80.0},
      {"series": "Summer AtticSim & E+", "hour": 73.9, "temp": 74.0},
      {"series": "Summer AtticSim & E+", "hour": 76.2, "temp": 70.5},
      {"series": "Summer AtticSim & E+", "hour": 78.1, "temp": 67.3},
      {"series": "Summer AtticSim & E+", "hour": 79.0, "temp": 68.9},
      {"series": "Summer AtticSim & E+", "hour": 80.1, "temp": 74.5},
      {"series": "Summer AtticSim & E+", "hour": 80.9, "temp": 82.5},
      {"series": "Summer AtticSim & E+", "hour": 81.8, "temp": 92.2},
      {"series": "Summer AtticSim & E+", "hour": 82.6, "temp": 101.0},
      {"series": "Summer AtticSim & E+", "hour": 83.5, "temp": 107.5},
      {"series": "Summer AtticSim & E+", "hour": 84.3, "temp": 112.0},
      {"series": "Summer AtticSim & E+", "hour": 84.9, "temp": 114.6},
      {"series": "Summer AtticSim & E+", "hour": 86.0, "temp": 117.0},
      {"series": "Summer AtticSim & E+", "hour": 87.4, "temp": 114.6},
      {"series": "Summer AtticSim & E+", "hour": 89.4, "temp": 111.4},
      {"series": "Summer AtticSim & E+", "hour": 90.2, "temp": 106.6},
      {"series": "Summer AtticSim & E+", "hour": 91.3, "temp": 97.8},
      {"series": "Summer AtticSim & E+", "hour": 92.4, "temp": 89.8},
      {"series": "Summer AtticSim & E+", "hour": 93.8, "temp": 83.3},
      {"series": "Summer AtticSim & E+", "hour": 95.5, "temp": 76.9},
      {"series": "Summer AtticSim & E+", "hour": 97.5, "temp": 72.1},
      {"series": "Summer AtticSim & E+", "hour": 99.7, "temp": 68.9},
      {"series": "Summer AtticSim & E+", "hour": 102.0, "temp": 66.9},
      {"series": "Summer AtticSim & E+", "hour": 102.8, "temp": 67.3},
      {"series": "Summer AtticSim & E+", "hour": 103.7, "temp": 72.1},
      {"series": "Summer AtticSim & E+", "hour": 104.5, "temp": 80.1},
      {"series": "Summer AtticSim & E+", "hour": 105.3, "temp": 89.8},
      {"series": "Summer AtticSim & E+", "hour": 106.2, "temp": 98.6},
      {"series": "Summer AtticSim & E+", "hour": 107.3, "temp": 107.4},
      {"series": "Summer AtticSim & E+", "hour": 108.4, "temp": 113.8},
      {"series": "Summer AtticSim & E+", "hour": 109.8, "temp": 118.7},
      {"series": "Summer AtticSim & E+", "hour": 111.2, "temp": 120.7},
      {"series": "Summer AtticSim & E+", "hour": 112.6, "temp": 119.5},
      {"series": "Summer AtticSim & E+", "hour": 113.8, "temp": 114.6},
      {"series": "Summer AtticSim & E+", "hour": 114.9, "temp": 107.4},
      {"series": "Summer AtticSim & E+", "hour": 116.0, "temp": 99.4},
      {"series": "Summer AtticSim & E+", "hour": 117.1, "temp": 89.8},
      {"series": "Summer AtticSim & E+", "hour": 118.5, "temp": 81.7},
      {"series": "Summer AtticSim & E+", "hour": 120.2, "temp": 76.1},
      {"series": "Summer AtticSim & E+", "hour": 122.2, "temp": 72.1},
      {"series": "Summer AtticSim & E+", "hour": 123.9, "temp": 70.5},
      {"series": "Summer AtticSim & E+", "hour": 125.5, "temp": 69.3},
      {"series": "Summer AtticSim & E+", "hour": 126.7, "temp": 68.5},
      {"series": "Summer AtticSim & E+", "hour": 127.8, "temp": 70.5},
      {"series": "Summer AtticSim & E+", "hour": 128.6, "temp": 80.1},
      {"series": "Summer AtticSim & E+", "hour": 129.5, "temp": 89.8},
      {"series": "Summer AtticSim & E+", "hour": 130.3, "temp": 99.4},
      {"series": "Summer AtticSim & E+", "hour": 131.2, "temp": 107.4},
      {"series": "Summer AtticSim & E+", "hour": 132.3, "temp": 113.8},
      {"series": "Summer AtticSim & E+", "hour": 133.4, "temp": 121.9},
      {"series": "Summer AtticSim & E+", "hour": 134.5, "temp": 126.7},
      {"series": "Summer AtticSim & E+", "hour": 135.4, "temp": 127.9},
      {"series": "Summer AtticSim & E+", "hour": 136.5, "temp": 122.7},
      {"series": "Summer AtticSim & E+", "hour": 137.3, "temp": 114.6},
      {"series": "Summer AtticSim & E+", "hour": 138.2, "temp": 105.0},
      {"series": "Summer AtticSim & E+", "hour": 139.0, "temp": 96.2},
      {"series": "Summer AtticSim & E+", "hour": 140.1, "temp": 88.2},
      {"series": "Summer AtticSim & E+", "hour": 141.5, "temp": 80.1},
      {"series": "Summer AtticSim & E+", "hour": 143.5, "temp": 72.9},
      {"series": "Summer AtticSim & E+", "hour": 145.7, "temp": 69.3},
      {"series": "Summer AtticSim & E+", "hour": 148.0, "temp": 68.1},
      {"series": "Summer AtticSim & E+", "hour": 149.7, "temp": 67.3},
      {"series": "Summer AtticSim & E+", "hour": 150.8, "temp": 68.9},
      {"series": "Summer AtticSim & E+", "hour": 151.9, "temp": 71.3},
      {"series": "Summer AtticSim & E+", "hour": 152.8, "temp": 78.5},
      {"series": "Summer AtticSim & E+", "hour": 153.6, "temp": 86.5},
      {"series": "Summer AtticSim & E+", "hour": 154.4, "temp": 94.6},
      {"series": "Summer AtticSim & E+", "hour": 155.3, "temp": 102.6},
      {"series": "Summer AtticSim & E+", "hour": 156.1, "temp": 109.0},
      {"series": "Summer AtticSim & E+", "hour": 157.2, "temp": 113.8},
      {"series": "Summer AtticSim & E+", "hour": 158.4, "temp": 117.8},
      {"series": "Summer AtticSim & E+", "hour": 159.5, "temp": 121.1},
      {"series": "Summer AtticSim & E+", "hour": 160.6, "temp": 121.1},
      {"series": "Summer AtticSim & E+", "hour": 161.7, "temp": 117.0},
      {"series": "Summer AtticSim & E+", "hour": 162.9, "temp": 110.6},
      {"series": "Summer AtticSim & E+", "hour": 164.0, "temp": 103.4},
      {"series": "Summer AtticSim & E+", "hour": 165.1, "temp": 96.2},
      {"series": "Summer AtticSim & E+", "hour": 166.5, "temp": 88.2},
      {"series": "Summer AtticSim & E+", "hour": 167.9, "temp": 80.1}
    ]
  },
  "vconcat": [
    {
      "width": 999,
      "height": 123,
      "view": {"stroke": null},
      "resolve": {"scale": {"x": "independent", "y": "independent"}},
      "layer": [
        {
          "data": {"name": "headers"},
          "mark": {"type": "text", "font": "Lato", "fontSize": 26, "color": "#000000", "baseline": "middle", "dy": -32},
          "encoding": {
            "x": {"field": "season", "type": "nominal", "scale": {"type": "point", "domain": ["Winter", "Summer"], "padding": 0.757}, "axis": null},
            "text": {"field": "label"}
          }
        },
        {
          "data": {"name": "headers"},
          "transform": [{"filter": "datum.season === 'Summer'"}],
          "mark": {"type": "rule", "color": "#000000", "strokeWidth": 1.2},
          "encoding": {
            "x": {"field": "season", "type": "nominal", "bandPosition": 0, "scale": {"type": "band", "domain": ["Winter", "Summer"], "paddingInner": 0, "paddingOuter": 0}, "axis": null}
          }
        },
        {
          "data": {"name": "temps"},
          "mark": {"type": "line", "opacity": 0},
          "encoding": {
            "x": {"field": "hour", "type": "quantitative", "axis": null},
            "y": {"field": "temp", "type": "quantitative", "axis": null},
            "color": {
              "field": "series", "type": "nominal",
              "scale": {"domain": ["Winter AtticSim & E+", "Winter Energy Plus Stand Alone", "Summer Energy Plus Stand Alone", "Summer AtticSim & E+"], "range": ["#000000", "#C0504D", "#CC3A3A", "#000000"]},
              "legend": {
                "orient": "none", "legendX": -9, "legendY": 54, "direction": "horizontal", "columns": 4,
                "title": null, "symbolType": "M-1,0H3", "symbolSize": 529, "symbolStrokeWidth": 4, "symbolOpacity": 1,
                "labelFont": "Lato", "labelFontSize": 20, "labelColor": "#000000", "labelOffset": 26, "labelLimit": 400,
                "columnPadding": 22, "padding": 21.5, "strokeColor": "#000000",
                "labelExpr": "substring(datum.label, 7)"
              }
            },
            "strokeDash": {
              "field": "series", "type": "nominal",
              "scale": {"domain": ["Winter AtticSim & E+", "Winter Energy Plus Stand Alone", "Summer Energy Plus Stand Alone", "Summer AtticSim & E+"], "range": [[1, 0], [1, 0], [13, 9], [18, 9]]},
              "legend": {
                "orient": "none", "legendX": -9, "legendY": 54, "direction": "horizontal", "columns": 4,
                "title": null, "symbolType": "M-1,0H3", "symbolSize": 529, "symbolStrokeWidth": 4, "symbolOpacity": 1,
                "labelFont": "Lato", "labelFontSize": 20, "labelColor": "#000000", "labelOffset": 26, "labelLimit": 400,
                "columnPadding": 22, "padding": 21.5, "strokeColor": "#000000",
                "labelExpr": "substring(datum.label, 7)"
              }
            }
          }
        }
      ]
    },
    {
      "width": 999,
      "height": 623,
      "view": {"stroke": "#000000", "strokeWidth": 1.5},
      "resolve": {"axis": {"x": "independent", "y": "independent"}},
      "layer": [
        {
          "data": {"name": "temps"},
          "mark": {"type": "line", "strokeWidth": 3.5, "clip": true, "strokeJoin": "round"},
          "encoding": {
            "x": {
              "field": "hour", "type": "quantitative",
              "scale": {"domain": [0, 168], "nice": false, "zero": false},
              "axis": {
                "orient": "bottom", "values": [0, 24, 48, 72, 96, 120, 144, 168], "format": "d",
                "title": "Time (hrs)", "titleFont": "Lato", "titleFontSize": 21, "titleFontWeight": "bold", "titleColor": "#000000", "titlePadding": 12,
                "labelFont": "Lato", "labelFontSize": 18, "labelColor": "#1a1a1a", "labelPadding": 14, "labelFlush": false, "labelOverlap": false,
                "tickSize": 7, "tickColor": "#868686", "tickWidth": 1.5, "domainColor": "#868686", "domainWidth": 1.5, "grid": false
              }
            },
            "y": {
              "field": "temp", "type": "quantitative",
              "scale": {"domain": [0, 140], "nice": false},
              "axis": {
                "orient": "left", "values": [0, 10, 20, 30, 40, 50, 60, 70, 80, 90, 100, 110, 120, 130, 140],
                "title": "Attic Air [ºF]", "titleFont": "Lato", "titleFontSize": 22, "titleFontWeight": "bold", "titleColor": "#000000", "titlePadding": 13, "titleY": 262,
                "labelFont": "Lato", "labelFontSize": 18, "labelColor": "#1a1a1a", "labelPadding": 13,
                "tickSize": 9, "tickColor": "#868686", "tickWidth": 1.5, "domainColor": "#868686", "domainWidth": 1.5,
                "grid": true, "gridColor": "#8C8C8C", "gridWidth": 1.5
              }
            },
            "color": {
              "field": "series", "type": "nominal",
              "scale": {"domain": ["Winter AtticSim & E+", "Winter Energy Plus Stand Alone", "Summer Energy Plus Stand Alone", "Summer AtticSim & E+"], "range": ["#000000", "#C0504D", "#CC3A3A", "#000000"]},
              "legend": null
            },
            "strokeDash": {
              "field": "series", "type": "nominal",
              "scale": {"domain": ["Winter AtticSim & E+", "Winter Energy Plus Stand Alone", "Summer Energy Plus Stand Alone", "Summer AtticSim & E+"], "range": [[1, 0], [1, 0], [13, 9], [18, 9]]},
              "legend": null
            }
          }
        },
        {
          "data": {"name": "arrows"},
          "mark": {"type": "rule", "color": "#4F81BD", "strokeWidth": 1.2},
          "encoding": {
            "x": {
              "field": "h1", "type": "quantitative",
              "scale": {"domain": [0, 168], "nice": false, "zero": false},
              "axis": {"orient": "bottom", "offset": -5, "values": [0, 4, 8, 12, 16, 20, 24, 28, 32, 36, 40, 44, 48, 52, 56, 60, 64, 68, 72, 76, 80, 84, 88, 92, 96, 100, 104, 108, 112, 116, 120, 124, 128, 132, 136, 140, 144, 148, 152, 156, 160, 164, 168], "tickSize": 5, "tickColor": "#868686", "tickWidth": 1.2, "labels": false, "domain": false, "grid": false, "title": null}
            },
            "y": {
              "field": "t1", "type": "quantitative",
              "scale": {"domain": [0, 140], "nice": false},
              "axis": {"orient": "left", "offset": -4, "tickCount": 140, "tickSize": 4, "tickColor": "#9A9A9A", "tickWidth": 1, "labels": false, "domain": false, "grid": false, "title": null}
            },
            "x2": {"field": "h2"},
            "y2": {"field": "t2"}
          }
        },
        {
          "data": {"name": "notes"},
          "mark": {"type": "text", "align": "left", "baseline": "middle", "font": "Lato", "fontSize": 19.5, "color": "#262626"},
          "encoding": {
            "x": {"field": "hour", "type": "quantitative", "scale": {"domain": [0, 168], "nice": false, "zero": false}, "axis": null},
            "y": {"field": "temp", "type": "quantitative", "scale": {"domain": [0, 140], "nice": false}, "axis": null},
            "text": {"field": "label"}
          }
        }
      ]
    }
  ]
}
